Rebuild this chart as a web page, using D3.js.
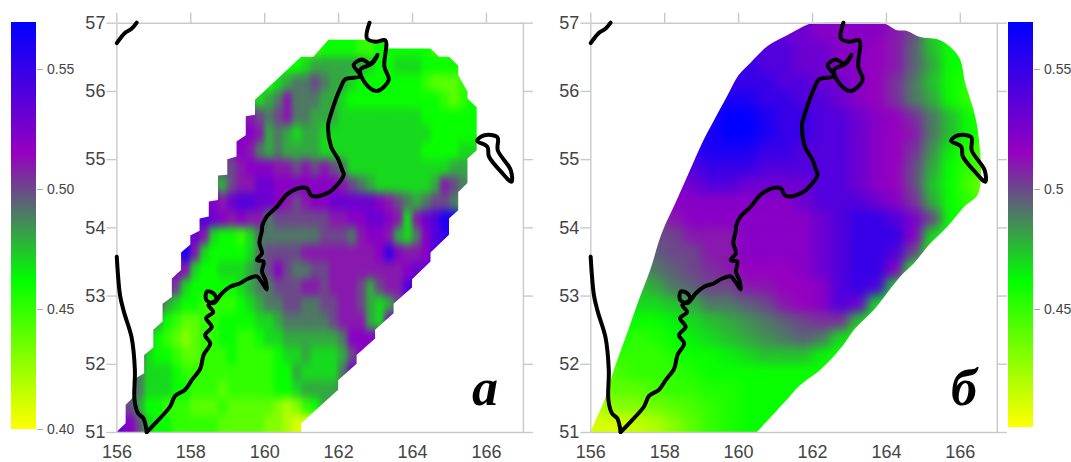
<!DOCTYPE html>
<html>
<head>
<meta charset="utf-8">
<script src="https://cdn.jsdelivr.net/npm/d3@7"></script>
<style>
  html, body { margin: 0; padding: 0; background: #fff; overflow: hidden; }
  text { font-family: "Liberation Sans", Arial, sans-serif; fill: #444; }
</style>
</head>
<body>
<div class="graph"></div>
<script>
// Axis ticks
const lonTicks = [156, 158, 160, 162, 164, 166];
const latTicks = [51, 52, 53, 54, 55, 56, 57];
const barTicksA = [0.40, 0.45, 0.50, 0.55];
const barTicksB = [0.45, 0.5, 0.55];

// Colour ramp
const rampValues = [0.40, 0.462, 0.515, 0.57];
const rampColors = ["#ffff00", "#00ff00", "#9600c0", "#0000ff"];

// Map a: 0.25 x 0.25 degree cells, value x 100, each row starts at rowStartA
const rowLatA = [56.5, 56.25, 56, 55.75, 55.5, 55.25, 55, 54.75, 54.5, 54.25, 54, 53.75, 53.5, 53.25, 53, 52.75, 52.5, 52.25, 52, 51.75, 51.5, 51.25, 51];
const rowStartA = [161, 160.5, 160, 159.75, 159.5, 159.25, 159, 158.75, 158.75, 158.5, 158.25, 158, 157.75, 157.5, 157.25, 157, 156.75, 156.5, 156.5, 156.25, 156.25, 156, 156];
const valuesA = [
  [45,45,46,46,46,46,45,45,46,46,46,46,46,46,45,45],
  [46,46,47,48,48,48,48,48,48,47,46,46,47,47,47,46,46,46,46],
  [46,47,48,49,49,50,49,48,48,47,46,46,46,46,46,46,46,45,44,44,44,45],
  [47,48,49,51,49,49,49,48,48,47,46,46,46,46,46,46,46,46,46,46,45,44,45,46],
  [51,50,49,50,51,49,49,48,48,48,47,47,47,47,47,47,47,47,47,46,46,46,46,46,46],
  [52,52,51,48,49,48,47,48,48,47,47,47,47,47,47,47,47,47,47,47,47,46,46,46,46,46],
  [51,52,51,49,48,49,48,48,48,48,47,47,47,47,47,47,47,47,47,47,47,46,46,46,46,47,47],
  [50,50,51,52,52,52,51,51,50,51,50,51,50,49,47,47,47,47,47,47,47,47,47,47,47,48,48,48],
  [48,50,51,51,53,53,52,52,52,52,52,52,52,51,50,49,48,47,47,47,47,47,47,48,51,50,49,48],
  [52,51,53,54,54,53,53,52,51,50,51,52,52,53,53,53,53,53,52,51,50,49,48,49,50,50,49,48],
  [54,53,52,51,52,51,51,49,50,50,50,50,50,50,51,51,52,52,53,53,52,51,47,51,53,54,56,56],
  [53,51,47,46,46,45,47,49,49,49,49,49,49,49,50,50,50,49,51,52,52,51,48,47,49,52,54,55,56],
  [56,51,47,46,46,46,46,47,49,50,50,50,50,51,51,51,51,51,51,51,51,52,55,52,51,51,52,54,54],
  [52,51,47,46,46,47,47,47,48,49,50,52,50,49,49,50,50,51,51,51,51,51,51,51,51,52,53,53,53],
  [52,50,47,46,46,46,46,46,47,48,49,49,50,50,50,51,51,50,51,51,51,50,48,50,51,51,54,55,54],
  [51,48,47,46,46,45,45,45,45,46,47,48,49,49,50,50,49,49,50,50,51,51,50,48,47,48,50,52,53],
  [51,48,46,45,44,44,45,45,46,46,46,46,47,47,48,49,49,49,49,49,50,51,51,51,48,47,52,55,53],
  [51,48,46,45,44,43,44,45,45,46,46,45,45,46,47,47,48,48,48,48,48,48,49,52,52,52,52,52,52],
  [50,47,46,46,45,44,44,45,45,45,46,45,45,45,45,46,47,47,48,47,47,47,48,50,52,51,50],
  [49,49,47,47,47,46,45,45,45,45,45,45,45,45,45,45,46,46,48,47,47,47,47,49,53,50],
  [49,49,47,47,47,46,46,45,45,45,44,45,45,45,45,45,46,46,47,48,48,48,48,49,49],
  [50,50,48,46,46,45,45,45,44,44,44,45,44,44,44,44,44,43,42,43,45,46,48,48],
  [53,52,50,47,46,46,45,45,45,45,45,44,44,44,44,44,43,43,42,41,41,41]
];

// Map b: 0.5 x 0.25 degree cells, value x 100
const rowLatB = [56.75, 56.5, 56.25, 56, 55.75, 55.5, 55.25, 55, 54.75, 54.5, 54.25, 54, 53.75, 53.5, 53.25, 53, 52.75, 52.5, 52.25, 52, 51.75, 51.5, 51.25, 51];
const rowStartB = [161, 160.5, 160, 159.5, 159.5, 159, 159, 158.5, 158.5, 158, 158, 157.5, 157.5, 157.5, 157, 157, 157, 156.5, 156.5, 156.5, 156, 156, 156, 156];
const valuesB = [
  [53,53,52,52,52,52,51,50,47,46],
  [54,54,53,53,52,52,51.5,51,49.5,47.5,46],
  [55,54,54,53,53,52,52,51.5,51,49.5,48,46,46],
  [55,55,55,54,54,53,53,52,51.5,50.5,49,47.5,46,45],
  [56,56,55,55,54,54,53,52,51.5,50.5,49,48,46,45],
  [56,57,57,56,55,55,54,54,53,52,51.5,50.5,49,47.5,46,45],
  [56,57,57,56,55,55,54,54,53,52,51.5,51,49,47.5,46,45.5],
  [55,56,56,56,55,55,54,54,54,53,52,51.5,50.5,48.5,46.5,45,44],
  [54,55,55,55,54,54,54,54,54,53,52,51.5,50,48,46,45,44],
  [52,53,54,54,53,53,53,53,54,54,53,52,51.5,50,47.5,46,44.5,43],
  [52,52,52,52,52,52,52,53,54,54,54,53,52,50.5,48,46,45,44],
  [50,51,52,52,52,52,52,52,52,53,54,55,55,54,52.5,50,46,46,45],
  [50,50,51,51,51,52,52,52,52,53,54,55,55,55,52,47,46,46],
  [49.5,50,50,51,51,52,52,52,52,53,54,55,55,54,50,46,46],
  [48,49,49.5,50,50.5,51,51.5,51.5,51.5,52,53,54,55,55,52,46,46],
  [47.5,48,49,49.5,50,50,51,51,51.5,51.5,52,54,55,54,47,46],
  [47,47,47.5,48,49,49,49.5,50,51,51.5,52,54,53,47,46],
  [46,46,46,46.5,47,47.5,48,48.5,49,49.5,50,50.5,50.5,47.5,46,46],
  [46,45,45.5,46,46.5,47,47.5,48,48.5,49,49.5,49,47,46,46],
  [45,45,45,45.5,46,46,46.5,47,47.5,47.5,47.5,46.5,46,46],
  [44,44.5,45,45,45,45.5,46,46,46,46,46,46,46,45.5],
  [43,44,44,44.5,45,45,45.5,45.5,46,46,46,46,46,46],
  [42,43,43,43.5,44,44.5,45,45.5,46,46,46,46,46],
  [41,41,41.5,42,43,44,45,45.5,46,46,46,46]
];

// Survey area outlines [lon, lat]
const outlineA = [
  [156,51],[156.25,51.13],[156.25,51.4],[156.5,51.53],[156.5,51.78],[156.75,51.86],[156.75,52.13],[157,52.24],[157,52.5],
  [157.25,52.62],[157.25,52.88],[157.5,52.98],[157.5,53.25],[157.75,53.375],[157.75,53.63],[158,53.75],[158,53.88],
  [158.25,53.95],[158.25,54.13],[158.5,54.16],[158.5,54.38],[158.75,54.4],[158.75,54.76],[159,54.77],[159,55],
  [159.25,55.04],[159.25,55.26],[159.5,55.35],[159.5,55.63],[159.75,55.65],[159.75,55.87],[161,56.5],[161.33,56.5],
  [161.74,56.75],[163.2,56.75],[163.33,56.62],[164.5,56.62],[164.73,56.5],[165,56.5],[165.25,56.37],[165.25,56.23],
  [165.5,55.99],[165.5,55.89],[165.75,55.76],[165.75,55.13],[165.5,55.01],[165.5,54.65],[165.25,54.52],[165.25,54.25],
  [165,54.13],[165,53.89],[164.5,53.63],[164.5,53.5],[164,53.24],[164,53.12],[163.5,52.88],[163.5,52.74],[163,52.5],
  [163,52.37],[162.5,52.13],[162.5,52],[162,51.76],[162,51.62],[161,51.13],[161,51]
];
const outlineB = [
  [156,51],[156.4,51.49],[156.62,51.88],[157.03,52.5],[157.33,52.96],[157.62,53.375],[157.93,53.91],[158.34,54.4],
  [158.7,54.84],[159.02,55.23],[159.33,55.55],[159.7,55.92],[160.01,56.23],[160.33,56.41],[160.78,56.65],[161.23,56.79],
  [161.95,56.99],[162.1,57],[163.9,57],[164.3,56.89],[164.57,56.88],[164.93,56.79],[165.48,56.74],[165.97,56.5],
  [166.15,56.11],[166.47,55.48],[166.5,54.5],[166.11,54.3],[165.66,54.01],[165.21,53.77],[164.75,53.47],[164.39,53.28],
  [163.67,52.79],[163.17,52.52],[162.81,52.25],[162.22,51.91],[161.68,51.69],[161.23,51.42],[160.51,51]
];

// Coastlines [lon, lat]
const coastMain = [
  [156.82,51],[157.09,51.15],[157.45,51.37],[157.59,51.53],[157.86,51.62],[158.04,51.76],[158.27,51.93],[158.36,52.13],
  [158.54,52.3],[158.4,52.42],[158.58,52.54],[158.43,52.67],[158.62,52.76],[158.49,52.86],[158.7,52.94],[158.63,53.03],
  [158.45,53.06],[158.43,52.94],[158.63,52.89],[158.85,53.03],[159.08,53.13],[159.35,53.18],[159.57,53.25],[159.8,53.28],
  [159.94,53.19],[160.07,53.09],[160.03,53.23],[159.94,53.35],[159.98,53.5],[159.8,53.52],[159.94,53.62],[159.87,53.77],
  [159.94,53.96],[159.94,54.01],[160.07,54.16],[160.34,54.3],[160.61,54.48],[160.98,54.58],[161.16,54.57],[161.29,54.46],
  [161.74,54.51],[162.15,54.77],[162.11,54.84],[162.01,54.99],[161.81,55.18],[161.73,55.5],[161.81,55.67],[162.06,56.04],
  [162.19,56.17],[162.6,56.22],[162.42,56.38],[162.65,56.46],[162.87,56.4],[163.07,56.53],[162.92,56.4],[162.6,56.31],
  [162.74,56.11],[163.05,56],[163.37,56.16],[163.25,56.36],[163.28,56.74],[163.01,56.72],[162.78,56.77],[162.85,57]
];
const coastWest = [
  [156.01,53.57],[156.1,53],[156.21,52.75],[156.41,52.39],[156.5,51.91],[156.49,51.47],[156.59,51.27],[156.73,51.2],[156.82,51]
];
const coastNorth = [[156.01,56.7],[156.23,56.85],[156.41,56.91],[156.55,57]];
const island = [
  [165.76,55.27],[165.96,55.35],[166.31,55.32],[166.32,55.13],[166.67,54.84],[166.69,54.67],[166.4,54.82],[166.08,55.04],[166.04,55.18]
];

const svg = d3
  .select(".graph")
  .append("svg")
  .attr("width", 1071)
  .attr("height", 462)
  .style("display", "block");
const defs = svg.append("defs");

const color = d3.scaleLinear().domain(rampValues).range(rampColors).clamp(true);

// Blur the cells, then make the blurred edge opaque so the outline clip cuts solid colour
function addSmooth(id, sx, sy) {
  const filter = defs
    .append("filter")
    .attr("id", id)
    .attr("filterUnits", "userSpaceOnUse")
    .attr("x", 0)
    .attr("y", 0)
    .attr("width", 1071)
    .attr("height", 462)
    .attr("color-interpolation-filters", "sRGB");
  filter.append("feGaussianBlur").attr("stdDeviation", `${sx} ${sy}`);
  filter
    .append("feComponentTransfer")
    .append("feFuncA")
    .attr("type", "linear")
    .attr("slope", 60);
}
addSmooth("smoothA", 2.8, 4.6);
addSmooth("smoothB", 6, 5.5);

function drawMap(cfg) {
  const x = d3.scaleLinear().domain([156, 167]).range([cfg.left, cfg.left + 406.5]);
  const y = d3.scaleLinear().domain([51, 57]).range([432, 22.7]);

  const cells = cfg.values.flatMap((row, i) =>
    row.map((v, j) => ({ lon: cfg.starts[i] + j * cfg.step, lat: cfg.lats[i], value: v / 100 }))
  );

  defs
    .append("clipPath")
    .attr("id", cfg.id + "-clip")
    .append("path")
    .attr("d", d3.line().x(d => x(d[0])).y(d => y(d[1])).curve(cfg.edge)(cfg.outline) + "Z");

  // Frame clip keeps the curved outline inside the axes
  defs
    .append("clipPath")
    .attr("id", cfg.id + "-frame")
    .append("rect")
    .attr("x", x(156))
    .attr("y", y(57))
    .attr("width", x(167) - x(156))
    .attr("height", y(51) - y(57));

  svg
    .append("g")
    .attr("clip-path", `url(#${cfg.id}-frame)`)
    .append("g")
    .attr("clip-path", `url(#${cfg.id}-clip)`)
    .append("g")
    .attr("filter", `url(#${cfg.smooth})`)
    .selectAll("rect")
    .data(cells)
    .join("rect")
    .attr("x", d => x(d.lon))
    .attr("y", d => y(d.lat + 0.25))
    .attr("width", d => x(d.lon + cfg.step) - x(d.lon) + 0.5)
    .attr("height", d => y(d.lat) - y(d.lat + 0.25) + 0.5)
    .attr("fill", d => color(d.value));

  // Axes
  const axes = [
    { axis: d3.axisLeft(y).tickValues(latTicks).tickFormat(d3.format("d")).tickSize(10).tickPadding(1), at: [cfg.left, 0], labels: true },
    { axis: d3.axisRight(y).tickValues(latTicks).tickSize(10), at: [cfg.left + 406.5, 0], labels: false },
    { axis: d3.axisTop(x).tickValues(lonTicks).tickSize(10), at: [0, 22.7], labels: false },
    { axis: d3.axisBottom(x).tickValues(lonTicks).tickFormat(d3.format("d")).tickSize(0).tickPadding(13), at: [0, 432], labels: true }
  ];
  axes.forEach(a => {
    const g = svg
      .append("g")
      .attr("transform", `translate(${a.at[0]}, ${a.at[1]})`)
      .call(a.axis.tickSizeOuter(0));
    g.selectAll(".domain, .tick line").attr("stroke", "#c9c9c9").attr("stroke-width", 1.4);
    g.selectAll("text").attr("font-size", 18).style("fill", "#444");
    if (!a.labels) g.selectAll("text").remove();
  });

  // Coast on top of everything
  const line = d3.line().x(d => x(d[0])).y(d => y(d[1])).curve(d3.curveCatmullRom.alpha(0.5));
  const closed = d3.line().x(d => x(d[0])).y(d => y(d[1])).curve(d3.curveCatmullRomClosed.alpha(0.5));
  svg
    .append("g")
    .attr("fill", "none")
    .attr("stroke", "#000")
    .attr("stroke-width", 4)
    .attr("stroke-linecap", "round")
    .attr("stroke-linejoin", "round")
    .selectAll("path")
    .data([line(coastMain), line(coastWest), line(coastNorth), closed(island)])
    .join("path")
    .attr("d", d => d);

  svg
    .append("text")
    .attr("x", cfg.labelX)
    .attr("y", 405)
    .attr("text-anchor", "middle")
    .style("font-family", '"Liberation Serif", serif')
    .style("font-weight", "bold")
    .style("font-style", "italic")
    .style("font-size", "52px")
    .style("fill", "#000")
    .text(cfg.label);
}

function drawBar(cfg) {
  const y = d3.scaleLinear().domain([0.40, 0.5696]).range([429, 22]);
  const grad = defs
    .append("linearGradient")
    .attr("id", cfg.id)
    .attr("x1", 0)
    .attr("x2", 0)
    .attr("y1", 1)
    .attr("y2", 0);
  rampValues.forEach((v, i) => {
    grad
      .append("stop")
      .attr("offset", (y(cfg.bottom) - y(v)) / (y(cfg.bottom) - 22))
      .attr("stop-color", rampColors[i]);
  });
  svg
    .append("rect")
    .attr("x", cfg.x)
    .attr("y", 22)
    .attr("width", 25)
    .attr("height", y(cfg.bottom) - 22)
    .attr("fill", `url(#${cfg.id})`);
  const g = svg
    .append("g")
    .attr("transform", `translate(${cfg.x + 26}, 0)`)
    .call(
      d3.axisRight(y)
        .tickValues(cfg.ticks)
        .tickSize(6)
        .tickPadding(4)
        .tickFormat(cfg.format)
    );
  g.select(".domain").remove();
  g.selectAll(".tick line").attr("stroke", "#aaa");
  g.selectAll("text").attr("font-size", 14).style("fill", "#444");
}

drawMap({
  id: "mapA", left: 116.4, step: 0.25, smooth: "smoothA", lats: rowLatA, starts: rowStartA,
  values: valuesA, outline: outlineA, edge: d3.curveLinear, label: "а", labelX: 485
});
drawMap({
  id: "mapB", left: 590.3, step: 0.5, smooth: "smoothB", lats: rowLatB, starts: rowStartB,
  values: valuesB, outline: outlineB, edge: d3.curveCatmullRom.alpha(0.5), label: "б", labelX: 964
});
drawBar({ id: "barA", x: 11, bottom: 0.40, ticks: barTicksA, format: d3.format(".2f") });
drawBar({ id: "barB", x: 1008, bottom: 0.4008, ticks: barTicksB, format: d => String(d) });
</script>
</body>
</html>
